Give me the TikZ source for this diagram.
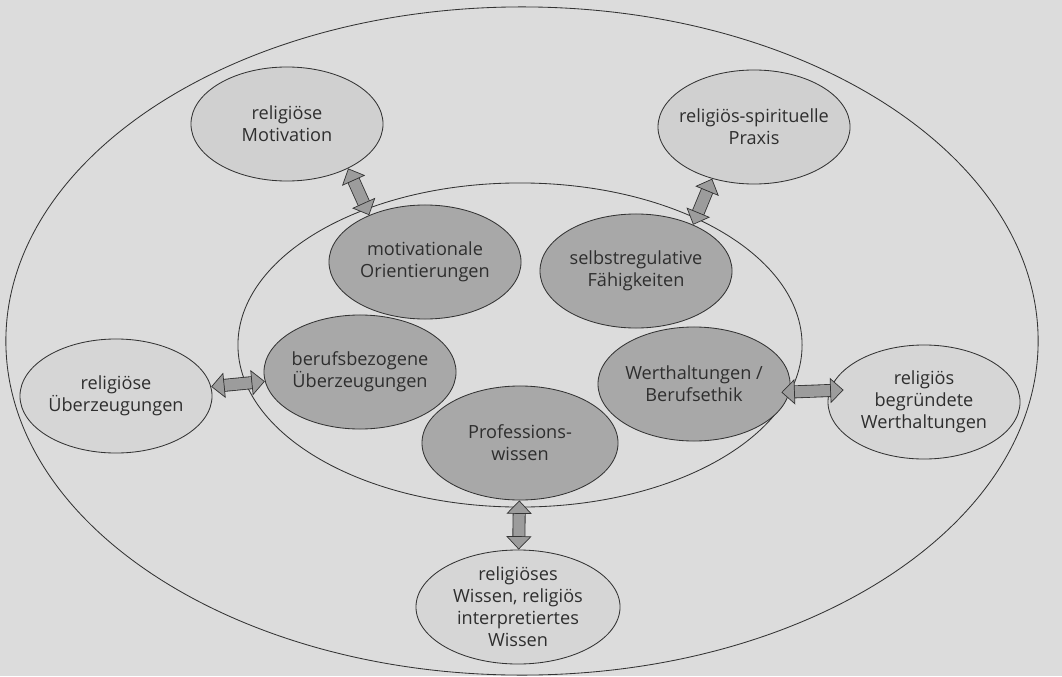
\documentclass[tikz,border=0pt]{standalone}
\usepackage{fontspec}
\setmainfont{Open Sans}
\usetikzlibrary{shapes.geometric,arrows.meta}
\definecolor{paper}{HTML}{DCDCDC}
\definecolor{ink}{HTML}{333333}
\definecolor{palebub}{HTML}{D0D0D0}
\definecolor{sidebub}{HTML}{D6D6D6}
\definecolor{darkbub}{HTML}{A8A8A8}
\definecolor{arrowgrey}{HTML}{9C9C9C}
\tikzset{
  ring/.style={draw=ink, ellipse, line width=0.6pt, inner sep=0pt},
  bubble/.style={ring, minimum width=4.8cm, minimum height=2.85cm},
  outerbub/.style={bubble, fill=palebub},
  sidebubble/.style={bubble, fill=sidebub},
  innerbub/.style={bubble, fill=darkbub},
  txt/.style={align=center, text=ink!90!black, font=\fontsize{12.9}{15.6}\selectfont},
  link/.style={draw=arrowgrey, line width=8pt,
    arrows={Triangle[width=18pt,length=9.5pt,color=ink,fill=arrowgrey,line width=0.5pt]-Triangle[width=18pt,length=9.5pt,color=ink,fill=arrowgrey,line width=0.5pt]},
    preaction={draw=ink, line width=9.2pt, arrows=-, shorten <=5pt, shorten >=5pt}}
}
\begin{document}
\begin{tikzpicture}[x=0.025cm, y=-0.025cm]
  \fill[paper] (0,0) rectangle (1062,676);
  \useasboundingbox (0,0) rectangle (1062,676);
  % the two rings
  \node[ring, minimum width=25.8cm, minimum height=16.7cm] (outer) at (522,341) {};
  \node[ring, minimum width=14.1cm, minimum height=8.1cm] (inner) at (520,345) {};
  % inner ring
  \node[innerbub, label={[txt]center:{motivationale\\Orientierungen}}] (motor) at (425,262) {};
  \node[innerbub, label={[txt]center:{selbstregulative\\Fähigkeiten}}] (selbst) at (636,271) {};
  \node[innerbub, label={[txt]center:{berufsbezogene\\Überzeugungen}}] (berufs) at (360,372) {};
  \node[innerbub, minimum width=4.9cm, label={[txt]center:{Professions-\\wissen}}] (profw) at (520,443) {};
  \node[innerbub, label={[txt]center:{Werthaltungen /\\Berufsethik}}] (ethik) at (694,384) {};
  % outer ring
  \node[outerbub, label={[txt]center:{religiöse\\Motivation}}] (motiv) at (287,124) {};
  \node[outerbub, label={[txt]center:{religiös-spirituelle\\Praxis}}] (praxis) at (754,127) {};
  \node[sidebubble, label={[txt]center:{religiöse\\Überzeugungen}}] (relueb) at (116,396) {};
  \node[sidebubble, label={[txt]center:{religiös\\begründete\\Werthaltungen}}] (relwert) at (924,402) {};
  \node[sidebubble, minimum width=5.1cm, label={[txt]center:{religiöses\\Wissen, religiös\\interpretiertes\\Wissen}}] (relwiss) at (518,607) {};
  % links
  \draw[link] (motiv.-36) -- (motor.140);
  \draw[link] (praxis.231) -- (selbst.39);
  \draw[link] (relueb) -- (berufs);
  \draw[link] ([xshift=-0.2cm]ethik.-5) -- ([xshift=0.4cm,yshift=0.3cm]relwert.west);
  \draw[link] (profw) -- (relwiss);
\end{tikzpicture}
\end{document}
